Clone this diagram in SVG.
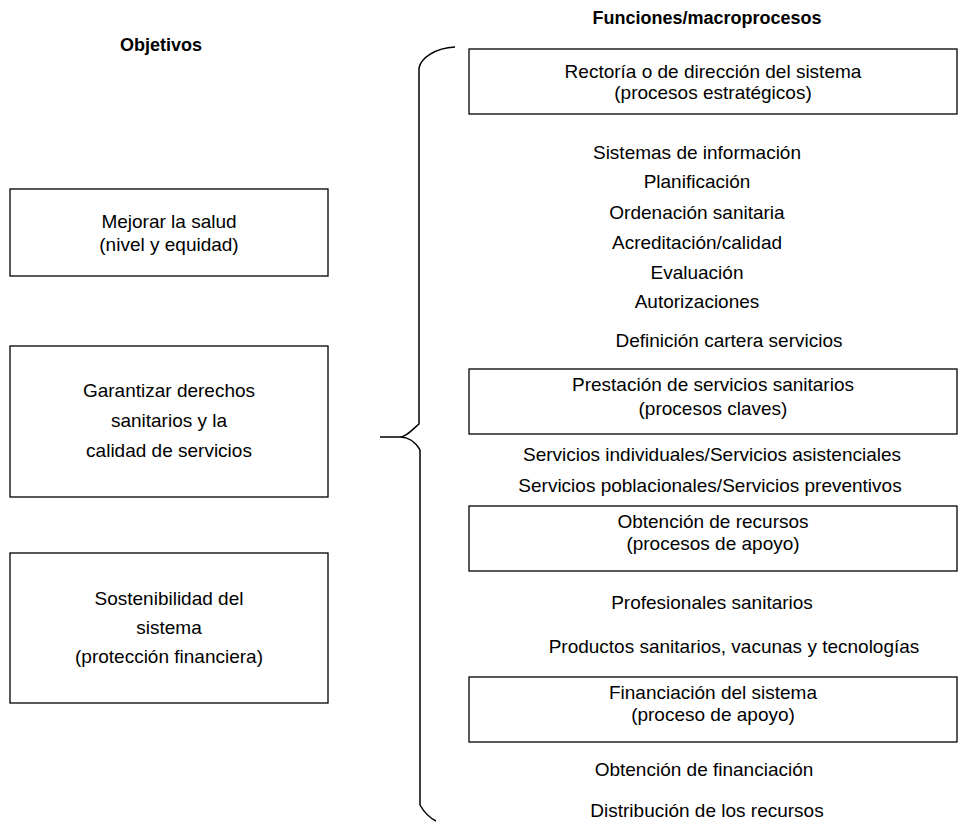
<svg xmlns="http://www.w3.org/2000/svg" width="959" height="822" viewBox="0 0 959 822">
<style>
.box{fill:#fff;stroke:#000;stroke-width:1.3}
text{font-family:"Liberation Sans",Arial,sans-serif;font-size:19px;fill:#000;text-anchor:middle}
.h{font-weight:bold;font-size:18px}
.br{fill:none;stroke:#000;stroke-width:1.5}
</style>
<rect width="959" height="822" fill="#fff"/>
<text class="h" x="161" y="51">Objetivos</text>
<text class="h" x="707" y="24">Funciones/macroprocesos</text>
<g id="obj1"><rect class="box" x="10" y="189" width="318" height="87"/><text x="169" y="228">Mejorar la salud</text><text x="169" y="251">(nivel y equidad)</text></g>
<g id="obj2"><rect class="box" x="10" y="346" width="318" height="151"/><text x="169" y="397">Garantizar derechos</text><text x="169" y="427">sanitarios y la</text><text x="169" y="457">calidad de servicios</text></g>
<g id="obj3"><rect class="box" x="10" y="553" width="318" height="150"/><text x="169" y="605">Sostenibilidad del</text><text x="169" y="634">sistema</text><text x="169" y="663">(protección financiera)</text></g>
<g id="connectors"><path class="br" d="M455,47 C435,48 421,58 419,68 L419,424 C410,432 405,437 400,437 L380,437 M400,437 C407,437 415,441 420,450 L420,805 C424,812 430,818 436,821"/></g>
<g id="f1"><rect class="box" x="469" y="49" width="488" height="65"/><text x="713" y="78">Rectoría o de dirección del sistema</text><text x="713" y="99">(procesos estratégicos)</text></g>
<g id="l1"><text x="697" y="159">Sistemas de información</text><text x="697" y="188">Planificación</text><text x="697" y="219">Ordenación sanitaria</text><text x="697" y="249">Acreditación/calidad</text><text x="697" y="279">Evaluación</text><text x="697" y="308">Autorizaciones</text><text x="729" y="347">Definición cartera servicios</text></g>
<g id="f2"><rect class="box" x="469" y="369" width="488" height="65"/><text x="713" y="391">Prestación de servicios sanitarios</text><text x="713" y="415">(procesos claves)</text></g>
<g id="l2"><text x="712" y="461">Servicios individuales/Servicios asistenciales</text><text x="710" y="492">Servicios poblacionales/Servicios preventivos</text></g>
<g id="f3"><rect class="box" x="469" y="506" width="488" height="65"/><text x="713" y="528">Obtención de recursos</text><text x="713" y="550">(procesos de apoyo)</text></g>
<g id="l3"><text x="712" y="609">Profesionales sanitarios</text><text x="734" y="653">Productos sanitarios, vacunas y tecnologías</text></g>
<g id="f4"><rect class="box" x="469" y="677" width="488" height="65"/><text x="713" y="699">Financiación del sistema</text><text x="713" y="721">(proceso de apoyo)</text></g>
<g id="l4"><text x="704" y="776">Obtención de financiación</text><text x="707" y="817">Distribución de los recursos</text></g>
</svg>
